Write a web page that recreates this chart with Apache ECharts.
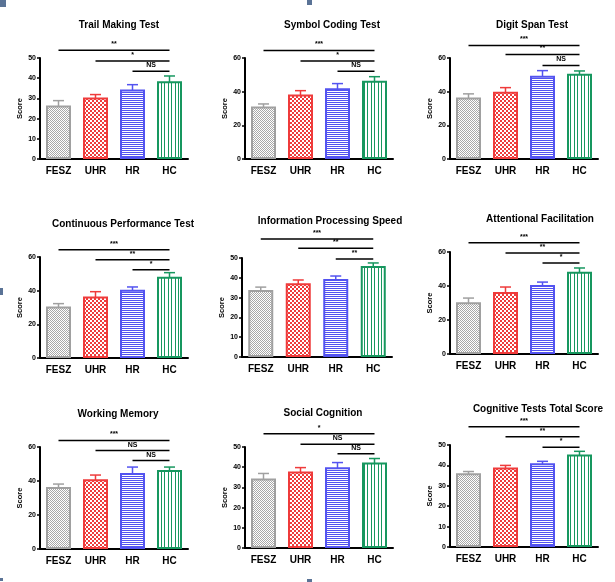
<!DOCTYPE html>
<html>
<head>
<meta charset="utf-8">
<script src="https://cdn.jsdelivr.net/npm/echarts@6/dist/echarts.min.js"></script>
<style>
html,body{margin:0;padding:0;background:#fff;}
#c{width:615px;height:582px;}
</style>
</head>
<body>
<div id="c"></div>
<script>
// ---------- data ----------
const categories = ['FESZ', 'UHR', 'HR', 'HC'];
const titles = ['Trail Making Test', 'Symbol Coding Test', 'Digit Span Test',
  'Continuous Performance Test', 'Information Processing Speed', 'Attentional Facilitation',
  'Working Memory', 'Social Cognition', 'Cognitive Tests Total Score'];
const yMax = [50, 60, 60, 60, 50, 60, 60, 50, 50];
const yInterval = [10, 20, 20, 20, 10, 20, 20, 10, 10];
const trailMaking = [26.5, 30.4, 34.4, 38.5];
const symbolCoding = [31.2, 38.3, 42.0, 46.5];
const digitSpan = [36.5, 40.0, 49.5, 50.7];
const continuousPerf = [30.6, 36.5, 40.6, 48.3];
const infoSpeed = [33.8, 37.3, 39.4, 45.9];
const attentional = [30.5, 36.4, 40.6, 48.4];
const workingMemory = [36.4, 41.1, 44.7, 46.5];
const socialCognition = [34.4, 37.9, 40.0, 42.3];
const totalScore = [36.1, 39.0, 41.0, 45.4];
const means = [trailMaking, symbolCoding, digitSpan, continuousPerf, infoSpeed,
  attentional, workingMemory, socialCognition, totalScore];
// upper end of error bars
const trailMakingErr = [28.9, 31.9, 36.8, 41.1];
const symbolCodingErr = [32.7, 40.6, 44.8, 48.9];
const digitSpanErr = [38.7, 42.4, 52.5, 52.3];
const continuousPerfErr = [32.3, 39.4, 42.2, 50.7];
const infoSpeedErr = [35.3, 38.9, 40.9, 47.5];
const attentionalErr = [32.9, 39.4, 42.3, 50.6];
const workingMemoryErr = [38.2, 43.5, 48.2, 48.2];
const socialCognitionErr = [36.9, 39.8, 42.3, 44.3];
const totalScoreErr = [37.0, 40.0, 42.0, 46.9];
const errTops = [trailMakingErr, symbolCodingErr, digitSpanErr, continuousPerfErr, infoSpeedErr,
  attentionalErr, workingMemoryErr, socialCognitionErr, totalScoreErr];
// significance comparisons: FESZ-HC, UHR-HC, HR-HC
const sigStart = [0, 1, 2];
const sigEnd = [3, 3, 3];
const sigLabels = [
  ['**', '*', 'NS'], ['***', '*', 'NS'], ['***', '**', 'NS'],
  ['***', '**', '*'], ['***', '**', '**'], ['***', '**', '*'],
  ['***', 'NS', 'NS'], ['*', 'NS', 'NS'], ['***', '**', '*']];
const sigLevels = [
  [53.8, 48.5, 43.4], [64.5, 58.2, 52.1], [67.5, 62.1, 55.6],
  [64.3, 58.4, 52.5], [59.6, 54.9, 49.5], [65.4, 59.4, 53.5],
  [63.8, 57.9, 52.0], [56.6, 51.3, 46.6], [59.0, 54.1, 48.9]];

// ---------- layout / style ----------
const grids = [
  {left: 40, top: 58, width: 148, height: 101},
  {left: 245, top: 58, width: 148, height: 101},
  {left: 450, top: 58, width: 148, height: 101},
  {left: 40, top: 257, width: 148, height: 101},
  {left: 242, top: 258, width: 150, height: 99},
  {left: 450, top: 252, width: 148, height: 102},
  {left: 40, top: 447, width: 148, height: 102},
  {left: 245, top: 447, width: 148, height: 101},
  {left: 450, top: 445, width: 148, height: 102}];
const titlePos = [[114, 15], [327, 15], [527, 15], [118, 214], [325, 211], [535, 209], [113, 404], [318, 403], [533, 399]];
const lineColors = ['#a0a0a0', '#ef3b3b', '#5353f0', '#17975f'];

function makePattern(type, color) {
  const c = document.createElement('canvas');
  const ctx = c.getContext('2d');
  if (type === 'fine') {
    c.width = 2; c.height = 2;
    ctx.fillStyle = '#fff'; ctx.fillRect(0, 0, 2, 2);
    ctx.fillStyle = color; ctx.fillRect(0, 0, 1, 1); ctx.fillRect(1, 1, 1, 1);
  } else if (type === 'checker') {
    c.width = 4; c.height = 4;
    ctx.fillStyle = '#fff'; ctx.fillRect(0, 0, 4, 4);
    ctx.fillStyle = color; ctx.fillRect(0, 0, 2, 2); ctx.fillRect(2, 2, 2, 2);
  } else if (type === 'hstripe') {
    c.width = 2; c.height = 2;
    ctx.fillStyle = '#fff'; ctx.fillRect(0, 0, 2, 2);
    ctx.fillStyle = color; ctx.fillRect(0, 0, 2, 1);
  } else {
    c.width = 7; c.height = 2;
    ctx.fillStyle = '#fff'; ctx.fillRect(0, 0, 7, 2);
    ctx.fillStyle = color; ctx.fillRect(0, 0, 1, 2); ctx.fillRect(3, 0, 1, 2);
  }
  return {image: c, repeat: 'repeat'};
}
const patterns = [
  makePattern('fine', '#a8a8a8'),
  makePattern('checker', '#ef3b3b'),
  makePattern('hstripe', '#5353f0'),
  makePattern('vstripe', '#17975f')];

const FONT = 'Liberation Sans, Arial, sans-serif';
const option = {
  animation: false,
  backgroundColor: '#fff',
  title: [], grid: [], xAxis: [], yAxis: [], series: [],
  graphic: [
    {type: 'rect', shape: {x: 0, y: 0, width: 6, height: 7}, style: {fill: '#5a7396'}},
    {type: 'rect', shape: {x: 307, y: 0, width: 5, height: 5}, style: {fill: '#5a7396'}},
    {type: 'rect', shape: {x: 0, y: 288, width: 3, height: 7}, style: {fill: '#5a7396'}},
    {type: 'rect', shape: {x: 0, y: 578, width: 3, height: 3}, style: {fill: '#5a7396'}},
    {type: 'rect', shape: {x: 307, y: 579, width: 5, height: 3}, style: {fill: '#5a7396'}}
  ]
};

for (let g = 0; g < 9; g++) {
  option.title.push({
    text: titles[g], left: titlePos[g][0], top: titlePos[g][1], textAlign: 'center',
    textStyle: {fontFamily: FONT, fontSize: 10, fontWeight: 'bold', color: '#000'}
  });
  option.grid.push(Object.assign({containLabel: false}, grids[g]));
  option.xAxis.push({
    type: 'category', gridIndex: g, data: categories,
    axisLine: {lineStyle: {color: '#000', width: 2}},
    axisTick: {alignWithLabel: true, length: 3, lineStyle: {color: '#000', width: 1.5}},
    axisLabel: {fontFamily: FONT, fontSize: 10, fontWeight: 'bold', color: '#000', margin: 7}
  });
  option.yAxis.push({
    type: 'value', gridIndex: g, min: 0, max: yMax[g], interval: yInterval[g],
    name: 'Score', nameLocation: 'middle', nameGap: 15,
    nameTextStyle: {fontFamily: FONT, fontSize: 7.5, fontWeight: 'bold', color: '#000'},
    axisLine: {show: true, lineStyle: {color: '#000', width: 2}},
    axisTick: {show: true, length: 3, lineStyle: {color: '#000', width: 1.5}},
    splitLine: {show: false},
    axisLabel: {fontFamily: FONT, fontSize: 7, fontWeight: 'bold', color: '#000', margin: 4}
  });
  option.series.push({
    type: 'bar', xAxisIndex: g, yAxisIndex: g, barWidth: 25,
    data: means[g].map((v, i) => ({
      value: v,
      itemStyle: {color: patterns[i], borderColor: lineColors[i], borderWidth: 2}
    }))
  });
  option.series.push({
    type: 'custom', xAxisIndex: g, yAxisIndex: g, clip: false, z: 1,
    data: means[g].map((v, i) => [i, v, errTops[g][i]]),
    renderItem: function (params, api) {
      const i = api.value(0);
      const base = api.coord([i, api.value(1)]);
      const top = api.coord([i, api.value(2)]);
      const st = {stroke: lineColors[i], lineWidth: 1.5, fill: null};
      return {type: 'group', children: [
        {type: 'line', shape: {x1: base[0], y1: base[1] + 3, x2: top[0], y2: top[1]}, style: st},
        {type: 'line', shape: {x1: top[0] - 5.5, y1: top[1], x2: top[0] + 5.5, y2: top[1]}, style: st}
      ]};
    }
  });
  option.series.push({
    type: 'custom', xAxisIndex: g, yAxisIndex: g, clip: false, z: 3,
    data: sigLevels[g].map((lv, k) => [sigStart[k], sigEnd[k], lv]),
    renderItem: function (params, api) {
      const a = api.coord([api.value(0), api.value(2)]);
      const b = api.coord([api.value(1), api.value(2)]);
      const label = sigLabels[g][params.dataIndex];
      return {type: 'group', children: [
        {type: 'line', shape: {x1: a[0], y1: a[1], x2: b[0], y2: a[1]}, style: {stroke: '#000', lineWidth: 1.5}},
        {type: 'text', x: (a[0] + b[0]) / 2, y: a[1] - 2.5,
          style: {text: label, fill: '#000', font: 'bold 7px ' + FONT, textAlign: 'center', textVerticalAlign: 'bottom'}}
      ]};
    }
  });
}

const chart = echarts.init(document.getElementById('c'), null, {renderer: 'canvas'});
chart.setOption(option);
</script>
</body>
</html>
